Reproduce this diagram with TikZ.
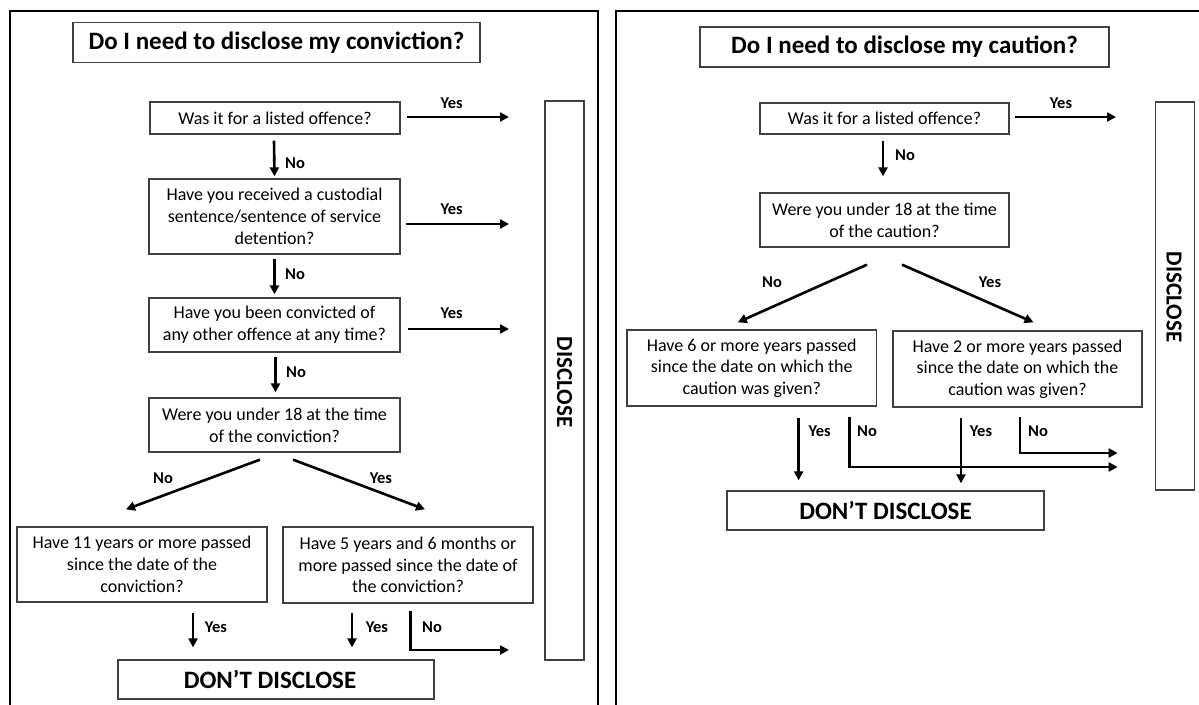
\documentclass[tikz,border=0pt]{standalone}
\usepackage{fontspec}
\setmainfont{Carlito}
\usetikzlibrary{arrows.meta}
\tikzset{
  qbox/.style={draw=black!75, line width=1.3pt, fill=white, align=center, inner sep=0pt,
    font=\fontsize{18}{21.7}\selectfont},
  titlebox/.style={draw=black!75, line width=1.3pt, align=center, inner sep=0pt,
    font=\fontsize{25}{29}\selectfont\bfseries},
  distxt/.style={inner sep=0pt, font=\fontsize{23}{27}\selectfont\bfseries},
  disbox/.style={draw=black!75, line width=1.3pt, inner sep=0pt},
  lbl/.style={font=\fontsize{16.5}{19}\selectfont\bfseries, inner sep=0pt},
  arr/.style={line width=2.6pt, -{Triangle[length=9pt,width=9pt]}},
  frame/.style={line width=1.5pt, draw=black}
}
\begin{document}
\begin{tikzpicture}[x=1pt,y=-1pt]
\useasboundingbox (0,0) rectangle (1199,704);
% frames
\draw[frame] (10,706) -- (10,11) -- (598,11) -- (598,706);
\draw[frame] (616,706) -- (616,11) -- (1205,11);

% ---------- LEFT PANEL ----------
\node[titlebox, minimum width=407pt, minimum height=40pt] (T1) at (276.5,42.5) {Do I need to disclose my conviction?};
\node[qbox, minimum width=250pt, minimum height=32pt] (L1) at (275,118) {Was it for a listed offence?};
\node[qbox, minimum width=251pt, minimum height=75pt] (L2) at (274.5,216.5) {Have you received a custodial\\sentence/sentence of service\\detention?};
\node[qbox, minimum width=251pt, minimum height=54pt] (L3) at (274.5,325) {Have you been convicted of\\any other offence at any time?};
\node[qbox, minimum width=251pt, minimum height=54pt] (L4) at (274.5,425) {Were you under 18 at the time\\of the conviction?};
\node[qbox, minimum width=250pt, minimum height=75pt] (L5) at (142,564.5) {Have 11 years or more passed\\since the date of the\\conviction?};
\node[qbox, minimum width=250pt, minimum height=76pt] (L6) at (408,565) {Have 5 years and 6 months or\\more passed since the date of\\the conviction?};
\node[titlebox, minimum width=316pt, minimum height=39pt] (LDC) at (276,679.5) {\hspace*{-12pt}DON’T DISCLOSE};
\node[disbox, minimum width=39pt, minimum height=559pt] (LDIS) at (564.5,380.5) {};
\node[distxt, rotate=-90] (LDIStxt) at (564.5,382) {DISCLOSE};

\coordinate (LY1) at (509,117);
\coordinate (LY2) at (509,224);
\coordinate (LY3) at (509,329);
\coordinate (LN6) at (509,650);

\draw[arr] ([xshift=6pt,yshift=1pt]L1.east) -- (LY1);
\node[lbl] at (451.6,103) {Yes};
\draw[arr] ([xshift=5pt,yshift=-7.5pt]L2.east) -- (LY2);
\node[lbl] at (451.6,209) {Yes};
\draw[arr] ([xshift=7pt,yshift=-4pt]L3.east) -- (LY3);
\node[lbl] at (451.6,313) {Yes};

\draw[arr] ([xshift=-1pt,yshift=-6pt]L1.south) -- ([yshift=2pt]L2.north);
\node[lbl] at (295,163) {No};
\draw[arr] ([yshift=-4pt]L2.south) -- ([yshift=3pt]L3.north);
\node[lbl] at (295,274) {No};
\draw[arr] ([xshift=1pt,yshift=-4pt]L3.south) -- ([xshift=1pt,yshift=5pt]L4.north);
\node[lbl] at (296,372) {No};

\draw[arr] ([xshift=-14.5pt,yshift=-7pt]L4.south) -- ([xshift=-16pt,yshift=17pt]L5.north);
\node[lbl] at (163,478) {No};
\draw[arr] ([xshift=18.5pt,yshift=-7pt]L4.south) -- ([xshift=17pt,yshift=17pt]L6.north);
\node[lbl] at (381,478) {Yes};

\draw[arr] ([xshift=51pt,yshift=-10pt]L5.south) -- ([xshift=-83pt,yshift=12pt]LDC.north);
\node[lbl] at (216,627) {Yes};
\draw[arr] ([xshift=-56pt,yshift=-9pt]L6.south) -- ([xshift=76pt,yshift=12pt]LDC.north);
\node[lbl] at (377,627) {Yes};
\draw[arr] ([xshift=2.6pt,yshift=-7pt]L6.south) |- (LN6);
\node[lbl] at (432,627) {No};

% ---------- RIGHT PANEL ----------
\node[titlebox, minimum width=409pt, minimum height=40pt] (T2) at (904.5,47) {Do I need to disclose my caution?};
\node[qbox, minimum width=249pt, minimum height=31pt] (R1) at (884.5,118.5) {Was it for a listed offence?};
\node[qbox, minimum width=249pt, minimum height=54pt] (R2) at (884.5,220) {Were you under 18 at the time\\of the caution?};
\node[qbox, minimum width=249.5pt, minimum height=76pt] (R3) at (751.75,368) {Have 6 or more years passed\\since the date on which the\\caution was given?};
\node[qbox, minimum width=249pt, minimum height=76pt] (R4) at (1017.5,369) {Have 2 or more years passed\\since the date on which the\\caution was given?};
\node[titlebox, minimum width=317pt, minimum height=39pt] (RDC) at (885.5,510.5) {DON’T DISCLOSE};
\node[disbox, minimum width=39pt, minimum height=388pt] (RDIS) at (1175,296) {};
\node[distxt, rotate=-90] (RDIStxt) at (1174,297) {DISCLOSE};

\coordinate (RY1) at (1116,117);
\coordinate (RN3) at (1117.6,467);
\coordinate (RN4) at (1117.6,453);

\draw[arr] ([xshift=5pt,yshift=1.5pt]R1.east) -- (RY1);
\node[lbl] at (1061,103) {Yes};
\draw[arr] ([xshift=-1.5pt,yshift=-6pt]R1.south) -- ([xshift=-1.5pt,yshift=16pt]R2.north);
\node[lbl] at (905,155) {No};

\draw[arr] ([xshift=-17.5pt,yshift=-17pt]R2.south) -- ([xshift=-14pt,yshift=7pt]R3.north);
\node[lbl] at (772,282) {No};
\draw[arr] ([xshift=17.5pt,yshift=-17pt]R2.south) -- ([xshift=16pt,yshift=8pt]R4.north);
\node[lbl] at (990,282) {Yes};

\draw[arr] ([xshift=46.85pt,yshift=-11pt]R3.south) -- ([xshift=-86.9pt,yshift=10pt]RDC.north);
\node[lbl] at (819.6,431) {Yes};
\draw[arr] ([xshift=-56.5pt,yshift=-10pt]R4.south) -- ([xshift=75.5pt,yshift=7pt]RDC.north);
\node[lbl] at (981,431) {Yes};
\draw[arr] ([xshift=97.65pt,yshift=-10pt]R3.south) |- (RN3);
\node[lbl] at (867,431) {No};
\draw[arr] ([xshift=2.5pt,yshift=-9pt]R4.south) |- (RN4);
\node[lbl] at (1038,431) {No};
\end{tikzpicture}
\end{document}
